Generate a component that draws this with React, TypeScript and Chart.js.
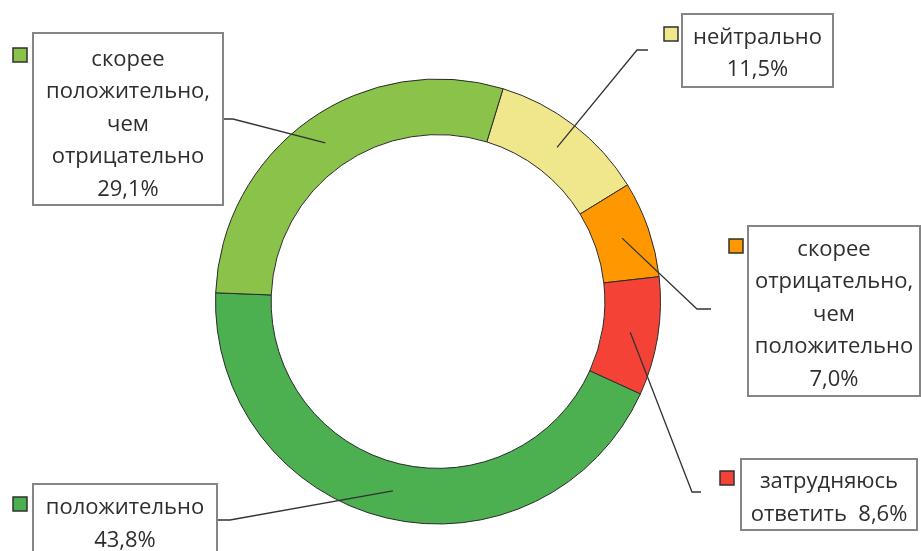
import React, { useEffect, useRef } from "react";
import { Chart, registerables } from "chart.js";

Chart.register(...registerables);

// ---- Data ----
const categories = [
  "нейтрально",
  "скорее отрицательно, чем положительно",
  "затрудняюсь ответить",
  "положительно",
  "скорее положительно, чем отрицательно",
];
const values = [11.5, 7.0, 8.6, 43.8, 29.1];
const labelNameLines = [
  ["нейтрально"],
  ["скорее", "отрицательно,", "чем", "положительно"],
  ["затрудняюсь", "ответить"],
  ["положительно"],
  ["скорее", "положительно,", "чем", "отрицательно"],
];
// whether the percent sits on the last name line (true) or on its own line
const percentInline = [false, false, true, false, false];
const colors = ["#F0E68C", "#FF9800", "#F44336", "#4CAF50", "#8BC34A"];

const fmtPct = (v: number) => v.toFixed(1).replace(".", ",") + "%";

// ---- Layout (label boxes, markers, leader-line elbows) ----
type Box = {
  x: number; y: number; w: number; h: number;
  mx: number; my: number; ms: number;
  elbow: [number, number]; end: [number, number];
  baseline: number;
};
const boxes: Box[] = [
  { x: 682, y: 14, w: 151, h: 73, mx: 664, my: 27, ms: 14, elbow: [637, 50], end: [648, 50], baseline: 43.5 },
  { x: 748, y: 226, w: 172, h: 170, mx: 729, my: 239, ms: 14, elbow: [697, 309], end: [711, 309], baseline: 255.5 },
  { x: 741, y: 459, w: 176, h: 71, mx: 720, my: 471, ms: 14, elbow: [692, 492], end: [701, 492], baseline: 488 },
  { x: 33, y: 484, w: 184, h: 80, mx: 13, my: 497, ms: 14, elbow: [230, 520], end: [217, 520], baseline: 514 },
  { x: 33, y: 33, w: 190, h: 172, mx: 13, my: 48, ms: 14, elbow: [233, 119], end: [224, 119], baseline: 65.5 },
];
const LINE_H = 32.5;
const FONT = '22px "Open Sans", "Noto Sans", sans-serif';
const TEXT_COLOR = "#2e2e2e";

const labelPlugin = {
  id: "boxedLabels",
  afterDraw(chart: any) {
    const ctx = chart.ctx as CanvasRenderingContext2D;
    const meta = chart.getDatasetMeta(0);
    ctx.save();
    meta.data.forEach((arc: any, i: number) => {
      const b = boxes[i];
      const c = arc.getCenterPoint();
      // leader line
      ctx.beginPath();
      ctx.strokeStyle = "#333333";
      ctx.lineWidth = 1.3;
      ctx.moveTo(c.x, c.y);
      ctx.lineTo(b.elbow[0], b.elbow[1]);
      ctx.lineTo(b.end[0], b.end[1]);
      ctx.stroke();
    });
    meta.data.forEach((_arc: any, i: number) => {
      const b = boxes[i];
      // box
      ctx.fillStyle = "#ffffff";
      ctx.fillRect(b.x, b.y, b.w, b.h);
      ctx.strokeStyle = "#858585";
      ctx.lineWidth = 2;
      ctx.strokeRect(b.x, b.y, b.w, b.h);
      // marker
      ctx.fillStyle = colors[i];
      ctx.fillRect(b.mx, b.my, b.ms, b.ms);
      ctx.strokeStyle = "#303030";
      ctx.lineWidth = 1.5;
      ctx.strokeRect(b.mx, b.my, b.ms, b.ms);
      // text
      const lines = [...labelNameLines[i]];
      const pct = fmtPct(values[i]);
      if (percentInline[i]) lines[lines.length - 1] = lines[lines.length - 1] + "  " + pct;
      else lines.push(pct);
      ctx.fillStyle = TEXT_COLOR;
      ctx.font = FONT;
      ctx.textAlign = "center";
      ctx.textBaseline = "alphabetic";
      lines.forEach((t, k) => {
        ctx.fillText(t, b.x + b.w / 2, b.baseline + k * LINE_H);
      });
    });
    ctx.restore();
  },
};

export default function App() {
  const ref = useRef<HTMLCanvasElement | null>(null);
  useEffect(() => {
    if (!ref.current) return;
    const chart = new Chart(ref.current, {
      type: "doughnut",
      data: {
        labels: categories,
        datasets: [
          {
            data: values,
            backgroundColor: colors,
            borderColor: "#2b2b2b",
            borderWidth: 1,
          },
        ],
      },
      options: {
        responsive: false,
        animation: false,
        rotation: 17,
        cutout: "75%",
        layout: { padding: { left: 215, right: 260, top: 78, bottom: 26 } },
        plugins: {
          legend: { display: false },
          tooltip: { enabled: false },
        },
      },
      plugins: [labelPlugin],
    });
    return () => chart.destroy();
  }, []);
  return (
    <div style={{ position: "fixed", left: 0, top: 0, width: 921, height: 551, background: "#fff" }}>
      <canvas ref={ref} width={921} height={551} style={{ display: "block" }} />
    </div>
  );
}
